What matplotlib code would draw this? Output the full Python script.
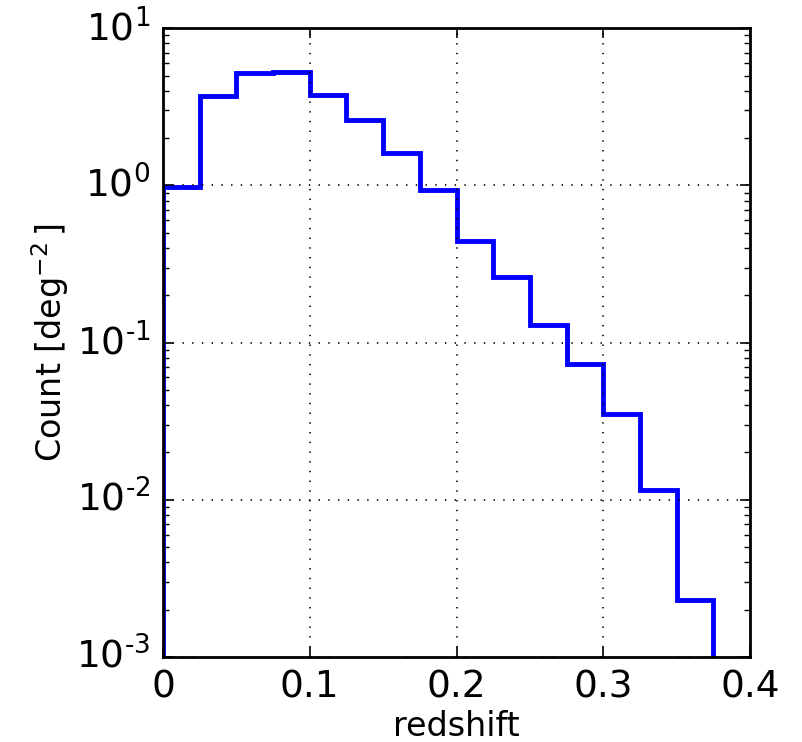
import matplotlib
matplotlib.use("Agg")
import matplotlib.pyplot as plt
import matplotlib.ticker as mticker
import numpy as np

plt.style.use('classic')
plt.rcParams['mathtext.fontset'] = 'dejavusans'

# histogram bins in redshift (edges) and counts per deg^2
bin_edges = [0.0, 0.025, 0.05, 0.075, 0.1, 0.125, 0.15, 0.175, 0.2,
             0.225, 0.25, 0.275, 0.3, 0.325, 0.35, 0.375]
counts = [0.97, 3.7, 5.15, 5.3, 3.75, 2.6, 1.6, 0.94,
          0.445, 0.26, 0.13, 0.073, 0.035, 0.0116, 0.0023]

x_ticks = [0, 0.1, 0.2, 0.3, 0.4]
x_labels = ['0', '0.1', '0.2', '0.3', '0.4']


def log_label(v, pos):
    # old-style labels: 10^-1 with a plain hyphen
    e = int(round(np.log10(v)))
    return r'$\mathdefault{10^{\text{%d}}}$' % e


fig = plt.figure(figsize=(8.03, 7.42), dpi=100, facecolor='white')
ax = fig.add_axes([0.203, 0.1146, 0.731, 0.8474])

centers = 0.5 * (np.array(bin_edges[:-1]) + np.array(bin_edges[1:]))
ax.hist(centers, bins=bin_edges, weights=counts, histtype='step',
        color='blue', lw=3.5)

ax.set_yscale('log')
ax.set_xlim(0, 0.4)
ax.set_ylim(1e-3, 1e1)
ax.set_xticks(x_ticks)
ax.set_xticklabels(x_labels)
ax.yaxis.set_major_formatter(mticker.FuncFormatter(log_label))

ax.grid(True, color='black', linestyle=(0, (1, 6)), lw=1.2)
for s in ax.spines.values():
    s.set_linewidth(2)

ax.tick_params(which='major', labelsize=27, length=7, width=1.2, pad=9)
ax.tick_params(which='minor', length=4, width=1.0)
ax.tick_params(axis='x', which='minor', bottom=False, top=False)

ax.set_xlabel('redshift', fontsize=24, labelpad=3)
ax.set_ylabel(r'Count [deg$^{-2}\,$]', fontsize=24, labelpad=4)

fig.savefig('out.png', dpi=100, facecolor='white')
